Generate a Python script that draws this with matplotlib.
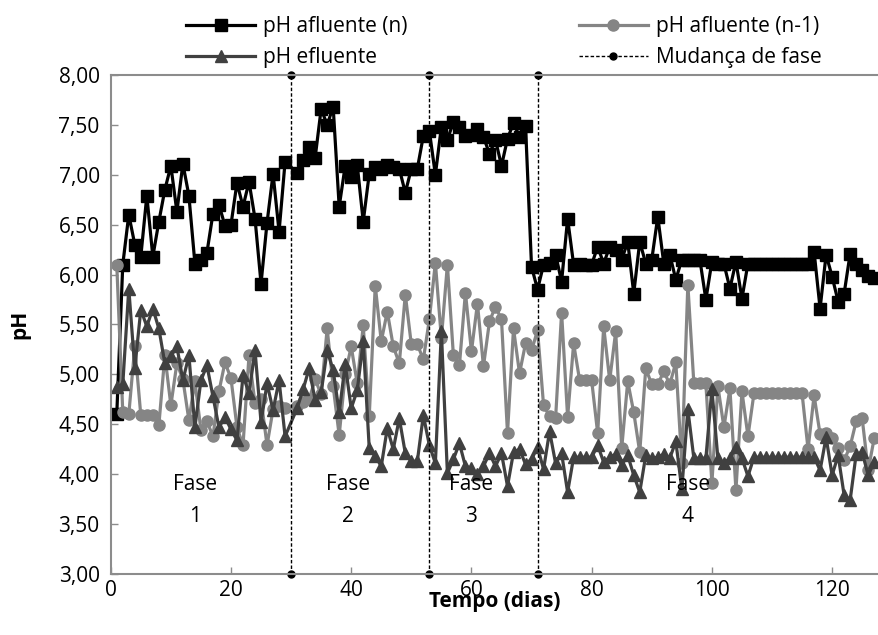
import matplotlib
matplotlib.use('Agg')
import matplotlib.pyplot as plt
from matplotlib.ticker import FuncFormatter

plt.rcParams['font.family'] = ['Open Sans', 'DejaVu Sans']
plt.rcParams['font.size'] = 15

# days of sampling (day 30 missing)
days = list(range(1, 30)) + list(range(31, 128))

# pH afluente (n)
ph_afl_n = [4.60, 6.10, 6.60, 6.30, 6.18, 6.79, 6.18, 6.53, 6.85, 7.09,
            6.63, 7.11, 6.79, 6.11, 6.15, 6.22, 6.61, 6.70, 6.49, 6.50,
            6.92, 6.68, 6.93, 6.56, 5.91, 6.52, 7.01, 6.43, 7.13,
            7.02, 7.15, 7.28, 7.17, 7.66, 7.50, 7.68, 6.68, 7.09, 6.98,
            7.10, 6.53, 7.01, 7.08, 7.06, 7.10, 7.08, 7.06, 6.82, 7.06,
            7.06, 7.39, 7.44, 7.00, 7.48, 7.35, 7.53, 7.48, 7.39, 7.40,
            7.46, 7.38, 7.21, 7.35, 7.09, 7.36, 7.52, 7.38, 7.49, 6.08,
            5.85, 6.10, 6.12, 6.20, 5.93, 6.56, 6.10, 6.11, 6.10, 6.10,
            6.28, 6.11, 6.28, 6.25, 6.15, 6.33, 5.81, 6.33, 6.11, 6.15,
            6.58, 6.11, 6.20, 5.95, 6.15, 6.15, 6.15, 6.15, 5.75, 6.13,
            6.11, 6.11, 5.86, 6.13, 5.76, 6.11, 6.11, 6.11, 6.11, 6.11,
            6.11, 6.11, 6.11, 6.11, 6.11, 6.11, 6.23, 5.66, 6.20, 5.98,
            5.73, 5.81, 6.21, 6.11, 6.05, 5.99, 5.97]

# pH afluente (n-1)
ph_afl_n1 = [6.10, 4.62, 4.60, 5.28, 4.59, 4.59, 4.59, 4.49, 5.19, 4.69,
             5.11, 4.95, 4.54, 4.93, 4.44, 4.53, 4.38, 4.83, 5.12, 4.96,
             4.47, 4.29, 5.19, 4.71, 4.75, 4.29, 4.65, 4.68, 4.66,
             4.68, 4.72, 4.75, 4.95, 4.80, 5.46, 4.88, 4.39, 5.00, 5.28,
             4.91, 5.49, 4.58, 5.89, 5.33, 5.63, 5.28, 5.11, 5.80, 5.30,
             5.30, 5.15, 5.55, 6.12, 5.36, 6.10, 5.19, 5.09, 5.82, 5.23,
             5.71, 5.08, 5.53, 5.68, 5.55, 4.41, 5.46, 5.01, 5.31, 5.24,
             5.44, 4.69, 4.58, 4.56, 5.62, 4.57, 5.31, 4.94, 4.94, 4.94,
             4.41, 5.48, 4.94, 5.43, 4.26, 4.93, 4.62, 4.22, 5.06, 4.90,
             4.90, 5.03, 4.90, 5.12, 4.11, 5.90, 4.91, 4.91, 4.91, 3.91,
             4.88, 4.47, 4.86, 3.84, 4.83, 4.38, 4.81, 4.81, 4.81, 4.81,
             4.81, 4.81, 4.81, 4.81, 4.81, 4.25, 4.79, 4.40, 4.41, 4.36,
             4.26, 4.14, 4.28, 4.53, 4.56, 4.04, 4.36]

# pH efluente
ph_efl = [4.87, 4.90, 5.86, 5.06, 5.65, 5.48, 5.66, 5.46, 5.11, 5.18,
          5.28, 4.94, 5.19, 4.47, 4.94, 5.09, 4.78, 4.47, 4.57, 4.45,
          4.34, 4.99, 4.81, 5.24, 4.52, 4.91, 4.64, 4.94, 4.38,
          4.66, 4.85, 5.06, 4.74, 4.82, 5.24, 5.04, 4.62, 5.10, 4.66,
          4.84, 5.33, 4.26, 4.18, 4.08, 4.46, 4.25, 4.56, 4.21, 4.13,
          4.13, 4.59, 4.29, 4.11, 5.43, 4.01, 4.15, 4.31, 4.08, 4.06,
          4.00, 4.08, 4.21, 4.08, 4.21, 3.88, 4.22, 4.25, 4.10, 4.15,
          4.27, 4.05, 4.43, 4.11, 4.21, 3.82, 4.17, 4.17, 4.17, 4.17,
          4.29, 4.12, 4.17, 4.20, 4.09, 4.19, 3.99, 3.82, 4.19, 4.16,
          4.17, 4.20, 4.16, 4.33, 3.85, 4.65, 4.16, 4.16, 4.16, 4.85,
          4.16, 4.11, 4.16, 4.27, 4.16, 3.98, 4.17, 4.17, 4.17, 4.17,
          4.17, 4.17, 4.17, 4.17, 4.17, 4.17, 4.17, 4.04, 4.37, 3.99,
          4.19, 3.79, 3.74, 4.20, 4.22, 3.99, 4.12]

# phase changes and labels
phase_change = [30, 53, 71]
phase_x = [14, 39.5, 60, 96]
phase_names = ['Fase\n1', 'Fase\n2', 'Fase\n3', 'Fase\n4']

fig = plt.figure(figsize=(8.79, 6.35), dpi=100)
ax = fig.add_axes([0.126, 0.096, 0.874, 0.786])

ax.plot(days, ph_afl_n, color='black', lw=2.3, marker='s', ms=8,
        label='pH afluente (n)')
ax.plot(days, ph_afl_n1, color='#858585', lw=2.3, marker='o', ms=8,
        label='pH afluente (n-1)')
ax.plot(days, ph_efl, color='#404040', lw=2.3, marker='^', ms=8,
        label='pH efluente')

for i, d in enumerate(phase_change):
    ax.plot([d, d], [3, 8], color='black', lw=1, ls=(0, (2.5, 1.5)),
            marker='o', ms=5, clip_on=False,
            label='Mudança de fase' if i == 0 else None)

for x, t in zip(phase_x, phase_names):
    ax.text(x, 3.74, t, ha='center', va='center', linespacing=1.7)

ax.set_xlim(0, 127.8)
ax.set_ylim(3, 8)
ax.set_xticks(range(0, 121, 20))
ax.set_yticks([3 + 0.5 * k for k in range(11)])
ax.yaxis.set_major_formatter(FuncFormatter(lambda v, p: f'{v:.2f}'.replace('.', ',')))

for s in ['left', 'top', 'bottom']:
    ax.spines[s].set_color('#8c8c8c')
    ax.spines[s].set_linewidth(1.5)
ax.spines['right'].set_visible(False)
ax.tick_params(direction='in', color='#8c8c8c', length=5, width=1)
ax.tick_params(axis='x', pad=4)
ax.tick_params(axis='y', pad=8)

ax.set_xlabel('Tempo (dias)', fontweight='bold', labelpad=-7)
ax.set_ylabel('pH', fontweight='bold', labelpad=20)

h, l = ax.get_legend_handles_labels()
order = [0, 2, 1, 3]
fig.legend([h[i] for i in order], [l[i] for i in order], ncol=2,
           loc='upper left', bbox_to_anchor=(0.212, 0.975), frameon=False,
           handlelength=3.3, handletextpad=0.4, columnspacing=8.2,
           labelspacing=0.5, borderpad=0, borderaxespad=0, fontsize=15)

fig.savefig('out.png', dpi=100)
